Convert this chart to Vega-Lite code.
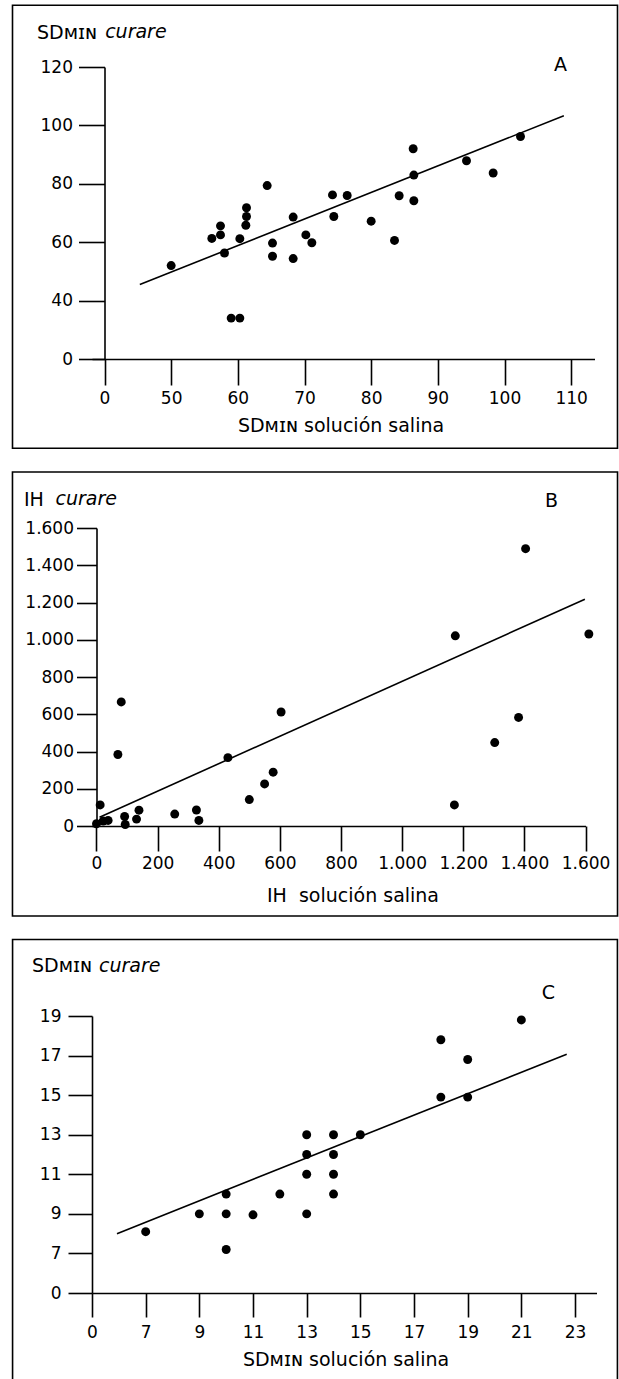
{
  "$schema": "https://vega.github.io/schema/vega-lite/v6.json",
  "background": "white",
  "padding": {"left": 11, "top": 4, "right": 0, "bottom": 0},
  "spacing": 21,
  "vconcat": [
    {
      "width": 502.5,
      "height": 292,
      "layer": [
        {
          "data": {"values": [
            {"x": 50, "y": 52}, {"x": 56.1, "y": 61.3}, {"x": 57.4, "y": 65.6}, {"x": 57.4, "y": 62.5},
            {"x": 58, "y": 56.3}, {"x": 59, "y": 34}, {"x": 60.3, "y": 34}, {"x": 60.3, "y": 61.2},
            {"x": 61.3, "y": 71.8}, {"x": 61.3, "y": 68.8}, {"x": 61.2, "y": 65.8}, {"x": 64.4, "y": 79.4},
            {"x": 65.2, "y": 59.7}, {"x": 65.2, "y": 55.2}, {"x": 68.3, "y": 68.6}, {"x": 68.3, "y": 54.4},
            {"x": 70.2, "y": 62.5}, {"x": 71.1, "y": 59.8}, {"x": 74.2, "y": 76.2}, {"x": 74.4, "y": 68.8},
            {"x": 76.4, "y": 76}, {"x": 80, "y": 67.2}, {"x": 83.5, "y": 60.6}, {"x": 84.2, "y": 75.9},
            {"x": 86.3, "y": 92}, {"x": 86.4, "y": 83}, {"x": 86.4, "y": 74.2}, {"x": 94.3, "y": 87.9},
            {"x": 98.3, "y": 83.7}, {"x": 102.4, "y": 96.2}
          ]},
          "mark": {"type": "circle", "size": 80, "color": "black", "opacity": 1},
          "encoding": {
            "x": {"field": "x", "type": "quantitative", "title": "SDᴍɪɴ solución salina", "scale": {"domain": [38.125, 113.5], "nice": false, "zero": false},
              "axis": {"values": [40, 50, 60, 70, 80, 90, 100, 110], "tickCount": 40, "format": "d", "labelExpr": "datum.value == 40 ? '0' : datum.label",
                "titleX": 248.5, "titleY": 72, "titleAlign": "center", "titleBaseline": "alphabetic",
                "tickSize": 26, "labelPadding": 5, "labelOverlap": false}},
            "y": {"field": "y", "type": "quantitative", "title": "SDᴍɪɴ", "scale": {"domain": [20, 120], "nice": false, "zero": false},
              "axis": {"values": [20, 40, 60, 80, 100, 120], "tickCount": 40, "format": "d", "labelExpr": "datum.value == 20 ? '0' : datum.label",
                "offset": -12.5, "titleAngle": 0, "titleX": -68, "titleY": -29, "titleAlign": "left", "titleBaseline": "alphabetic",
                "tickSize": 26, "labelPadding": 6, "labelOverlap": false}}
          }
        },
        {
          "data": {"values": [{"x": 45.3, "y": 45.5}, {"x": 108.9, "y": 103.3}]},
          "mark": {"type": "line", "color": "black", "strokeWidth": 1.6},
          "encoding": {
            "x": {"field": "x", "type": "quantitative", "title": "SDᴍɪɴ solución salina"},
            "y": {"field": "y", "type": "quantitative", "title": "SDᴍɪɴ"}
          }
        },
        {
          "data": {"values": [{}]},
          "mark": {"type": "rect", "filled": false, "color": "black", "strokeWidth": 1.6},
          "encoding": {
            "x": {"datum": 26.2, "type": "quantitative"},
            "x2": {"datum": 116.95},
            "y": {"datum": -10.58, "type": "quantitative"},
            "y2": {"datum": 141.13}
          }
        },
        {
          "data": {"values": [{}]},
          "mark": {"type": "text", "text": "curare", "fontStyle": "italic", "align": "left", "baseline": "alphabetic"},
          "encoding": {
            "x": {"datum": 40.1, "type": "quantitative"},
            "y": {"datum": 130.0, "type": "quantitative"}
          }
        },
        {
          "data": {"values": [{}]},
          "mark": {"type": "text", "text": "A", "align": "center", "baseline": "middle"},
          "encoding": {
            "x": {"datum": 108.4, "type": "quantitative"},
            "y": {"datum": 120.75, "type": "quantitative"}
          }
        }
      ]
    },
    {
      "width": 493.5,
      "height": 298,
      "layer": [
        {
          "data": {"values": [
            {"x": 0, "y": 12}, {"x": 12, "y": 113}, {"x": 22, "y": 27}, {"x": 38, "y": 30},
            {"x": 70, "y": 384}, {"x": 81, "y": 666}, {"x": 92, "y": 51}, {"x": 94, "y": 8},
            {"x": 131, "y": 37}, {"x": 139, "y": 85}, {"x": 256, "y": 64}, {"x": 327, "y": 86},
            {"x": 335, "y": 30}, {"x": 430, "y": 367}, {"x": 500, "y": 142}, {"x": 550, "y": 226},
            {"x": 578, "y": 289}, {"x": 604, "y": 612}, {"x": 1171, "y": 113}, {"x": 1174, "y": 1021},
            {"x": 1303, "y": 448}, {"x": 1381, "y": 583}, {"x": 1404, "y": 1489}, {"x": 1611, "y": 1031}
          ]},
          "mark": {"type": "circle", "size": 80, "color": "black", "opacity": 1},
          "encoding": {
            "x": {"field": "x", "type": "quantitative", "title": "IH\u00a0 solución salina", "scale": {"domain": [-14.7, 1600], "nice": false, "zero": false},
              "axis": {"values": [0, 200, 400, 600, 800, 1000, 1200, 1400, 1600], "tickCount": 40, "labelExpr": "replace(format(datum.value, ','), ',', '.')",
                "titleX": 260.5, "titleY": 75, "titleAlign": "center", "titleBaseline": "alphabetic",
                "tickSize": 25, "labelPadding": 4, "labelOverlap": false}},
            "y": {"field": "y", "type": "quantitative", "title": "IH", "scale": {"domain": [0, 1600], "nice": false, "zero": false},
              "axis": {"values": [0, 200, 400, 600, 800, 1000, 1200, 1400, 1600], "tickCount": 40, "labelExpr": "replace(format(datum.value, ','), ',', '.')",
                "offset": -4.5, "titleAngle": 0, "titleX": -73, "titleY": -23, "titleAlign": "left", "titleBaseline": "alphabetic",
                "tickSize": 20, "labelPadding": 3, "labelOverlap": false}}
          }
        },
        {
          "data": {"values": [{"x": 10, "y": 47}, {"x": 1598, "y": 1218}]},
          "mark": {"type": "line", "color": "black", "strokeWidth": 1.6},
          "encoding": {
            "x": {"field": "x", "type": "quantitative", "title": "IH\u00a0 solución salina"},
            "y": {"field": "y", "type": "quantitative", "title": "IH"}
          }
        },
        {
          "data": {"values": [{}]},
          "mark": {"type": "rect", "filled": false, "color": "black", "strokeWidth": 1.6},
          "encoding": {
            "x": {"datum": -274.9, "type": "quantitative"},
            "x2": {"datum": 1704.8},
            "y": {"datum": -483.2, "type": "quantitative"},
            "y2": {"datum": 1900.7}
          }
        },
        {
          "data": {"values": [{}]},
          "mark": {"type": "text", "text": "curare", "fontStyle": "italic", "align": "left", "baseline": "alphabetic"},
          "encoding": {
            "x": {"datum": -134.2, "type": "quantitative"},
            "y": {"datum": 1723.5, "type": "quantitative"}
          }
        },
        {
          "data": {"values": [{}]},
          "mark": {"type": "text", "text": "B", "align": "center", "baseline": "middle"},
          "encoding": {
            "x": {"datum": 1488.9, "type": "quantitative"},
            "y": {"datum": 1742.3, "type": "quantitative"}
          }
        }
      ]
    },
    {
      "width": 504.5,
      "height": 277,
      "layer": [
        {
          "data": {"values": [
            {"x": 7, "y": 8.1}, {"x": 9, "y": 9}, {"x": 10, "y": 10}, {"x": 10, "y": 9}, {"x": 10, "y": 7.2},
            {"x": 11, "y": 8.95}, {"x": 12, "y": 10}, {"x": 13, "y": 13}, {"x": 13, "y": 12}, {"x": 13, "y": 11},
            {"x": 13, "y": 9}, {"x": 14, "y": 13}, {"x": 14, "y": 12}, {"x": 14, "y": 11}, {"x": 14, "y": 10},
            {"x": 15, "y": 13}, {"x": 18, "y": 17.8}, {"x": 18, "y": 14.9}, {"x": 19, "y": 16.8}, {"x": 19, "y": 14.9},
            {"x": 21, "y": 18.8}
          ]},
          "mark": {"type": "circle", "size": 80, "color": "black", "opacity": 1},
          "encoding": {
            "x": {"field": "x", "type": "quantitative", "title": "SDᴍɪɴ solución salina", "scale": {"domain": [5, 23.8], "nice": false, "zero": false},
              "axis": {"values": [5, 7, 9, 11, 13, 15, 17, 19, 21, 23], "tickCount": 40, "format": "d", "labelExpr": "datum.value == 5 ? '0' : datum.label",
                "titleX": 253.5, "titleY": 72, "titleAlign": "center", "titleBaseline": "alphabetic",
                "tickSize": 24, "labelPadding": 7, "labelOverlap": false}},
            "y": {"field": "y", "type": "quantitative", "title": "SDᴍɪɴ", "scale": {"domain": [5, 19], "nice": false, "zero": false},
              "axis": {"values": [5, 7, 9, 11, 13, 15, 17, 19], "tickCount": 40, "format": "d", "labelExpr": "datum.value == 5 ? '0' : datum.label",
                "titleAngle": 0, "titleX": -60.5, "titleY": -44.3, "titleAlign": "left", "titleBaseline": "alphabetic",
                "tickSize": 24, "labelPadding": 7, "labelOverlap": false}}
          }
        },
        {
          "data": {"values": [{"x": 5.93, "y": 8.0}, {"x": 22.69, "y": 17.07}]},
          "mark": {"type": "line", "color": "black", "strokeWidth": 1.6},
          "encoding": {
            "x": {"field": "x", "type": "quantitative", "title": "SDᴍɪɴ solución salina"},
            "y": {"field": "y", "type": "quantitative", "title": "SDᴍɪɴ"}
          }
        },
        {
          "data": {"values": [{}]},
          "mark": {"type": "rect", "filled": false, "color": "black", "strokeWidth": 1.6},
          "encoding": {
            "x": {"datum": 2.04, "type": "quantitative"},
            "x2": {"datum": 24.58},
            "y": {"datum": 0.1, "type": "quantitative"},
            "y2": {"datum": 22.87}
          }
        },
        {
          "data": {"values": [{}]},
          "mark": {"type": "text", "text": "curare", "fontStyle": "italic", "align": "left", "baseline": "alphabetic"},
          "encoding": {
            "x": {"datum": 5.26, "type": "quantitative"},
            "y": {"datum": 21.24, "type": "quantitative"}
          }
        },
        {
          "data": {"values": [{}]},
          "mark": {"type": "text", "text": "C", "align": "center", "baseline": "middle"},
          "encoding": {
            "x": {"datum": 22.01, "type": "quantitative"},
            "y": {"datum": 20.16, "type": "quantitative"}
          }
        }
      ]
    }
  ],
  "config": {
    "view": {"stroke": null},
    "axis": {
      "domainColor": "black", "domainWidth": 1.6, "tickColor": "black", "tickWidth": 1.6,
      "labelColor": "black", "labelFont": "DejaVu Sans", "labelFontSize": 17,
      "titleFont": "DejaVu Sans", "titleFontSize": 19, "titleFontWeight": "normal", "titleColor": "black",
      "grid": false, "labelFlush": false, "labelOverlap": false, "labelBound": false
    },
    "text": {"font": "DejaVu Sans", "fontSize": 19, "color": "black"}
  }
}
